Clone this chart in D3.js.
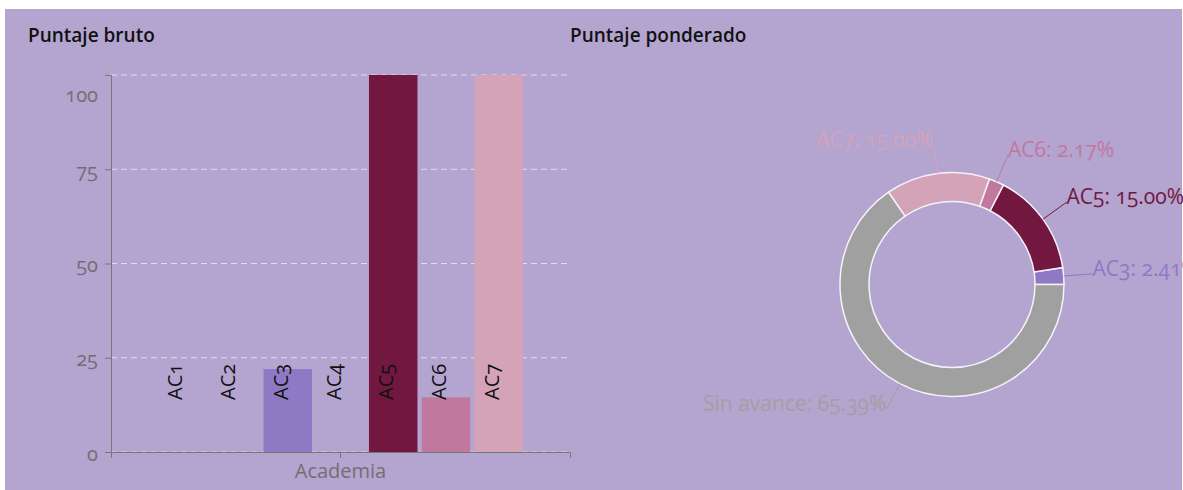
<!DOCTYPE html>
<html>
<head>
<meta charset="utf-8">
<script src="https://cdn.jsdelivr.net/npm/d3@7"></script>
<style>
  body { margin: 0; background: #fff; font-family: "Open Sans", sans-serif; }
  svg text { font-family: "Open Sans", sans-serif; font-variant-numeric: oldstyle-nums; }
  .title { font-size: 19px; font-weight: 600; fill: #111; }
  .axis path, .axis line { stroke: #777; }
  .axis text { fill: #707070; font-size: 20px; }
  .grid line { stroke: #e0dce8; stroke-dasharray: 6,4; }
</style>
</head>
<body>
<div id="chart"></div>
<script>
// bar chart data
var groups = ['Academia'];
var categories = ['AC1', 'AC2', 'AC3', 'AC4', 'AC5', 'AC6', 'AC7'];
var rawScores = [0, 0, 22, 0, 100, 14.5, 100];
var barColors = ['#8e79c4', '#8e79c4', '#8e79c4', '#8e79c4', '#721740', '#c0789f', '#d4a3b8'];
var yTicks = [0, 25, 50, 75, 100];

// donut data
var pieLabels = ['AC3', 'AC5', 'AC6', 'AC7', 'Sin avance'];
var pieValues = [2.41, 15.00, 2.17, 15.00, 65.39];
var pieColors = ['#8e79c4', '#721740', '#c0789f', '#d4a3b8', '#a0a0a0'];

var W = 1183, H = 490;

var svg = d3.select('#chart')
  .append('svg')
  .attr('width', W)
  .attr('height', H);

// purple panel
svg.append('rect')
  .attr('x', 5).attr('y', 9)
  .attr('width', 1177).attr('height', 481)
  .attr('fill', '#b4a4d0');

svg.append('text').attr('class', 'title').attr('x', 28).attr('y', 42).text('Puntaje bruto');
svg.append('text').attr('class', 'title').attr('x', 570).attr('y', 42).text('Puntaje ponderado');

// ---- bar chart ----
var margin = { top: 75, left: 111 },
  width = 459,
  height = 377;

var g = svg.append('g')
  .attr('transform', 'translate(' + margin.left + ',' + margin.top + ')');

var yScale = d3.scaleLinear().domain([0, 100]).range([height, 0]);

var x0 = d3.scaleBand().domain(groups).range([0, width]).paddingInner(0).paddingOuter(0.129);
var x1 = d3.scaleBand().domain(categories).range([0, x0.bandwidth()]).paddingInner(0.08).paddingOuter(0);

// dashed grid
g.append('g')
  .attr('class', 'grid')
  .selectAll('line')
  .data(yTicks)
  .enter()
  .append('line')
  .attr('x1', 0)
  .attr('x2', width)
  .attr('y1', function (d) { return yScale(d); })
  .attr('y2', function (d) { return yScale(d); });

// bars
var bars = categories.map(function (c, i) {
  return { name: c, value: rawScores[i], color: barColors[i], group: groups[0] };
});

var groupG = g.append('g')
  .attr('transform', 'translate(' + x0(groups[0]) + ',0)');

groupG.selectAll('rect')
  .data(bars)
  .enter()
  .append('rect')
  .attr('x', function (d) { return x1(d.name); })
  .attr('width', x1.bandwidth())
  .attr('y', function (d) { return yScale(d.value); })
  .attr('height', function (d) { return height - yScale(d.value); })
  .attr('fill', function (d) { return d.color; });

// rotated bar labels
groupG.selectAll('.barLabel')
  .data(bars)
  .enter()
  .append('text')
  .attr('class', 'barLabel')
  .attr('transform', function (d) {
    return 'translate(' + (x1(d.name) + x1.bandwidth() / 2) + ',' + (height - 52) + ') rotate(-90)';
  })
  .style('font-size', '20px')
  .style('fill', '#111')
  .text(function (d) { return d.name; });

// axes
var yAxis = g.append('g')
  .attr('class', 'axis')
  .call(d3.axisLeft(yScale).tickValues(yTicks).tickSize(6).tickPadding(7));
yAxis.selectAll('.tick text').attr('dy', '0.4em');
yAxis.selectAll('.tick').filter(function (d) { return d === 100; })
  .select('text').attr('dy', '1.3em');

var xAxis = g.append('g')
  .attr('class', 'axis')
  .attr('transform', 'translate(0,' + height + ')')
  .call(d3.axisBottom(x0).tickSizeOuter(0).tickSize(6).tickFormat(''));

g.append('text')
  .attr('x', x0(groups[0]) + x0.bandwidth() / 2)
  .attr('y', height + 26)
  .style('text-anchor', 'middle')
  .style('font-size', '20px')
  .style('fill', '#707070')
  .text(groups[0]);

// ---- donut ----
var cx = 952, cy = 284.5,
  outerR = 112, innerR = 83, labelR = 141;

var pieData = pieLabels.map(function (l, i) {
  return { name: l, value: pieValues[i], color: pieColors[i] };
});

// counter-clockwise from 3 o'clock
var pie = d3.pie()
  .sort(null)
  .value(function (d) { return d.value; })
  .startAngle(Math.PI / 2)
  .endAngle(Math.PI / 2 - 2 * Math.PI);

var arc = d3.arc().innerRadius(innerR).outerRadius(outerR);
var arcs = pie(pieData);

var donut = svg.append('g').attr('transform', 'translate(' + cx + ',' + cy + ')');

donut.selectAll('path')
  .data(arcs)
  .enter()
  .append('path')
  .attr('d', arc)
  .attr('fill', function (d) { return d.data.color; })
  .attr('stroke', '#f4f2f8')
  .attr('stroke-width', 1.5);

function midAngle(d) { return (d.startAngle + d.endAngle) / 2; }

donut.selectAll('.leader')
  .data(arcs)
  .enter()
  .append('line')
  .attr('class', 'leader')
  .attr('x1', function (d) { return Math.sin(midAngle(d)) * outerR; })
  .attr('y1', function (d) { return -Math.cos(midAngle(d)) * outerR; })
  .attr('x2', function (d) { return Math.sin(midAngle(d)) * labelR; })
  .attr('y2', function (d) { return -Math.cos(midAngle(d)) * labelR; })
  .attr('stroke', function (d) { return d.data.color; })
  .attr('stroke-width', 1);

donut.selectAll('.pieLabel')
  .data(arcs)
  .enter()
  .append('text')
  .attr('class', 'pieLabel')
  .attr('x', function (d) { return Math.sin(midAngle(d)) * labelR; })
  .attr('y', function (d) { return -Math.cos(midAngle(d)) * labelR; })
  .attr('dy', '0.1em')
  .style('text-anchor', function (d) { return Math.sin(midAngle(d)) >= 0 ? 'start' : 'end'; })
  .style('font-size', '21px')
  .style('fill', function (d) { return d.data.color; })
  .text(function (d) { return d.data.name + ': ' + d.data.value.toFixed(2) + '%'; });
</script>
</body>
</html>
